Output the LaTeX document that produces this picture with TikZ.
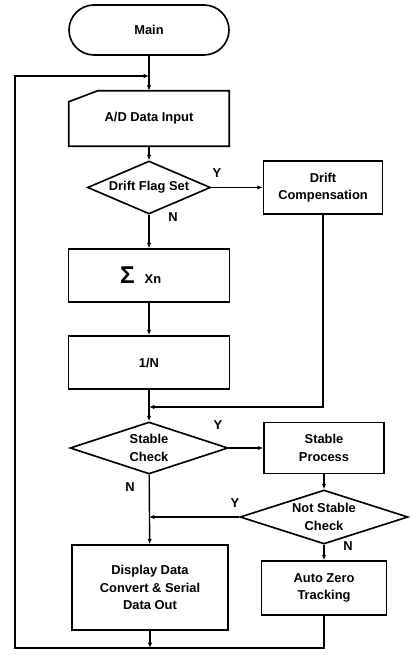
\documentclass[tikz,border=0pt]{standalone}
\usepackage{fontspec}
\setmainfont{Liberation Sans}
\usetikzlibrary{positioning,arrows.meta,shapes.geometric,calc}
\tikzset{
  term/.style={rectangle,rounded corners=7.5mm,draw,line width=1.4pt,font=\fontsize{11}{15}\selectfont\bfseries,minimum width=48mm,minimum height=15mm},
  box/.style={rectangle,draw,line width=1.4pt,align=center,font=\fontsize{11}{15}\selectfont\bfseries},
  inbox/.style={rectangle,align=center,font=\fontsize{11}{15}\selectfont\bfseries},
  decide/.style={diamond,draw,line width=1.4pt,align=center,inner sep=0pt,font=\fontsize{11}{15}\selectfont\bfseries},
  link/.style={-{Latex[length=1.6mm,width=1.3mm]},line width=1.2pt},
  tag/.style={font=\fontsize{11}{13}\selectfont\bfseries,inner sep=1pt}
}

\begin{document}
\begin{tikzpicture}[x=0.3mm,y=-0.3mm]
  \useasboundingbox (0,0) rectangle (409,655);
  % main column
  \node[term] (main) at (149,30) {Main};
  \node[inbox,minimum width=48mm,minimum height=16.5mm] (adin) at (149,118.5) {A/D Data Input};
  \draw[line width=1.4pt] (adin.south west) -- (adin.south east) -- (adin.north east)
    -- ([xshift=8.7mm]adin.north west) -- ([yshift=-3.3mm]adin.north west) -- cycle;
  \node[decide,aspect=2.32,minimum width=36.9mm,minimum height=15.9mm] (drift) at (149,187.5) {Drift Flag Set};
  \node[box,minimum width=48.3mm,minimum height=15.9mm] (sum) at (149,275.5) {{\huge Σ}\hspace{3mm}Xn\hspace{5mm}};
  \node[box,minimum width=48.3mm,minimum height=15.9mm] (invn) at (149,362.5) {1/N};
  \node[decide,aspect=3.04,minimum width=47.4mm,minimum height=15.6mm] (stab) at (149,448) {Stable\\Check};
  \node[box,minimum width=46.8mm,minimum height=25.5mm] (disp) at (150,587.5) {Display Data\\Convert \& Serial\\Data Out};
  % right column
  \node[box,minimum width=35.7mm,minimum height=15.9mm] (dcomp) at (323,187.5) {Drift\\Compensation};
  \node[box,minimum width=36mm,minimum height=15.3mm] (sproc) at (324,448) {Stable\\Process};
  \node[decide,aspect=3.1,minimum width=50.4mm,minimum height=16.2mm] (nstab) at (324,517) {Not Stable\\Check};
  \node[box,minimum width=37.5mm,minimum height=16.2mm] (azt) at (324,588) {Auto Zero\\Tracking};
  % branch labels
  \node[tag] (y1) at (217,173) {Y};
  \node[tag] (n1) at (173,217) {N};
  \node[tag] (y2) at (218,425) {Y};
  \node[tag] (n2) at (130,487) {N};
  \node[tag] (y3) at (235,503) {Y};
  \node[tag] (n3) at (348,546) {N};
  % junctions
  \coordinate (mrg) at (149,407);
  \coordinate (ytap) at (149,517);
  \coordinate (lpbot) at (15,648);
  \coordinate (lpin) at (149,76);
  % connectors
  \draw[link] (main) -- (adin);
  \draw[link] (adin) -- (drift);
  \draw[link] (drift) -- (dcomp);
  \draw[link] (drift) -- (sum);
  \draw[link] (sum) -- (invn);
  \draw[link] (invn) -- (stab);
  \draw[link] (dcomp.south) |- (mrg);
  \draw[link] (stab) -- (sproc);
  \draw[link] (stab) -- (disp);
  \draw[link] (sproc) -- (nstab);
  \draw[link] (nstab) -- (azt);
  \draw[link] (nstab.west) -- (ytap);
  \draw[link] (disp) -- (disp.south |- lpbot);
  \draw[link] (azt.south) |- (lpbot) |- (lpin);
\end{tikzpicture}
\end{document}
